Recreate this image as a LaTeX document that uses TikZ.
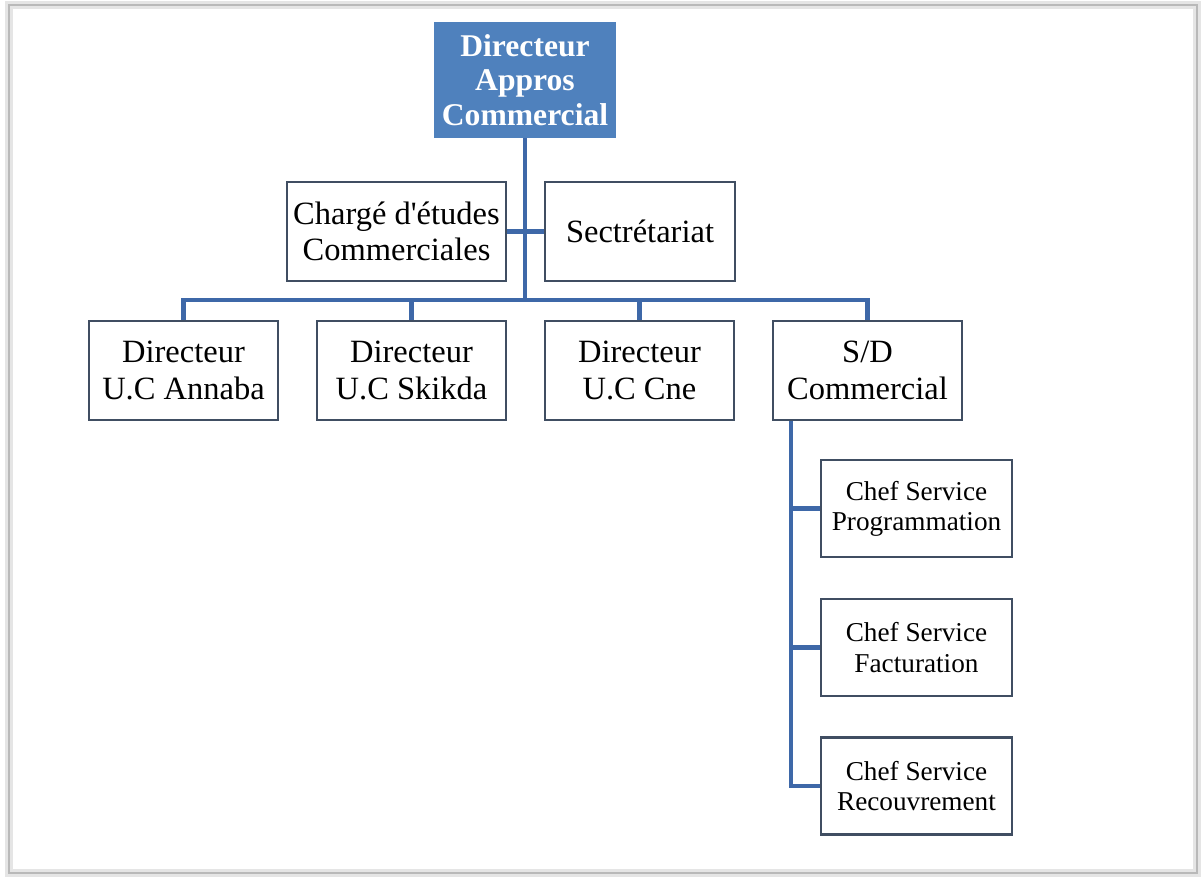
\documentclass[tikz,border=0pt]{standalone}
\usepackage{fontspec}
\setmainfont{Liberation Serif}
\usepackage{tikz}
\usetikzlibrary{positioning,calc}

\definecolor{headblue}{RGB}{79,129,189}
\definecolor{linkblue}{RGB}{62,104,168}
\definecolor{boxline}{RGB}{64,78,98}

\begin{document}
\begin{tikzpicture}[
    x=0.02cm, y=-0.02cm,
    head/.style={fill=headblue, text=white, font=\fontsize{18}{19.8}\selectfont\bfseries, minimum width=3.64cm, minimum height=2.32cm, inner sep=0pt, align=center},
    unit/.style={draw=boxline, line width=1.4pt, fill=white, font=\fontsize{18.5}{20.8}\selectfont, minimum height=1.98cm, inner sep=0pt, align=center},
    svc/.style={draw=boxline, line width=1.4pt, fill=white, font=\fontsize{15.5}{17.2}\selectfont, minimum width=3.82cm, minimum height=1.94cm, inner sep=0pt, align=center},
    link/.style={draw=linkblue, line width=2.3pt}
]
\useasboundingbox (0,0) rectangle (1203,878);
% outer frame
\draw[gray!20, line width=5pt] (9,5) rectangle (1197,873);
\draw[gray!55, line width=1.2pt] (9,5) rectangle (1197,873);

% boxes
\node[head] (dir) at (525,80) {Directeur\\Appros\\Commercial};
\node[unit, minimum width=4.38cm] (etu) at (396.5,231.5) {Chargé d\textquotesingle études\\Commerciales};
\node[unit, minimum width=3.8cm]  (sec) at (640,231.5)   {Sectrétariat};

\node[unit, minimum width=3.78cm] (ann) at (183.5,370.5) {Directeur\\U.C Annaba};
\node[unit, minimum width=3.78cm] (sky) at (411.5,370.5) {Directeur\\U.C Skikda};
\node[unit, minimum width=3.78cm] (cne) at (639.5,370.5) {Directeur\\U.C Cne};
\node[unit, minimum width=3.78cm] (sdc) at (867.5,370.5) {S/D\\Commercial};

\node[svc] (prg) at (916.5,508.5) {Chef Service\\Programmation};
\node[svc] (fac) at (916.5,647.5) {Chef Service\\Facturation};
\node[svc] (rec) at (916.5,786)   {Chef Service\\Recouvrement};

% connectors
\coordinate (bus) at (525,300);
\coordinate (spine) at ($(sdc.south west)+(19,0)$);
\draw[link] (dir.south) -- (bus);
\draw[link] (etu.east) -- (sec.west);
\draw[link] (ann.north) |- (bus) -| (sdc.north);
\draw[link] (sky.north) -- (sky.north |- bus);
\draw[link] (cne.north) -- (cne.north |- bus);
\draw[link] (spine) |- (rec.west);
\draw[link] (prg.west) -- (prg.west -| spine);
\draw[link] (fac.west) -- (fac.west -| spine);
\end{tikzpicture}
\end{document}
